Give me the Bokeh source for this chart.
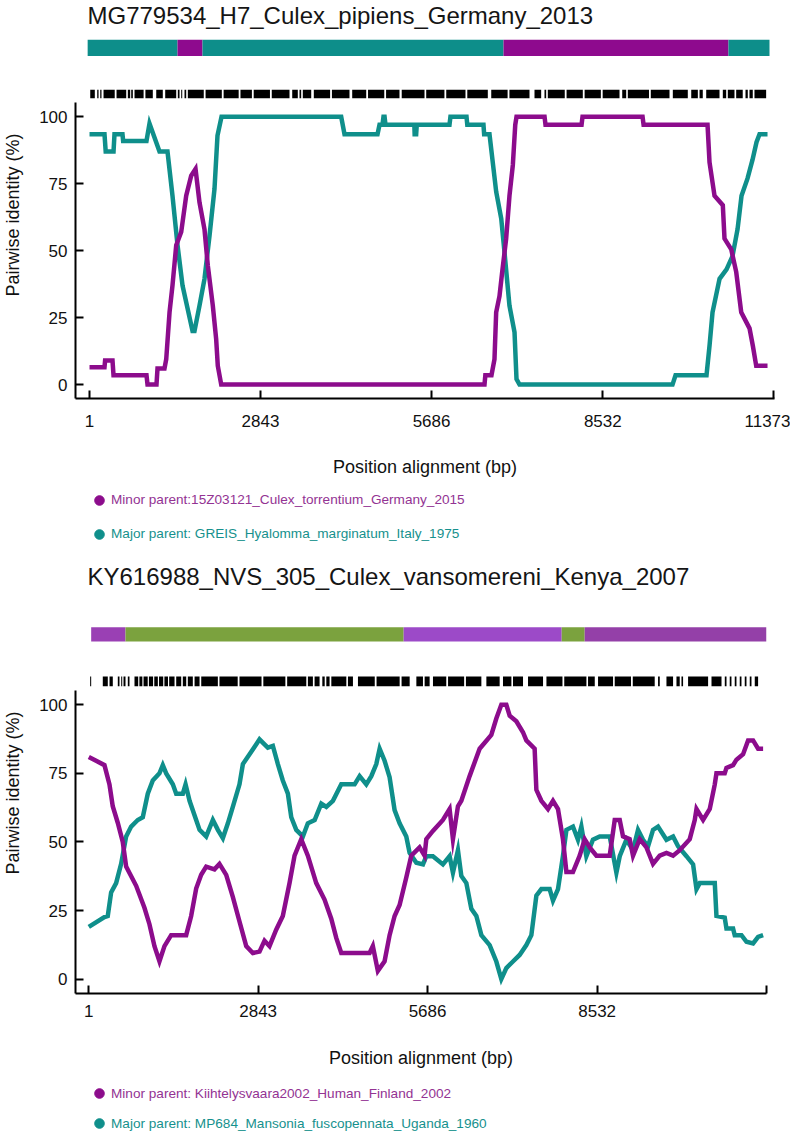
from bokeh.plotting import figure
from bokeh.models import ColumnDataSource, FixedTicker, Legend, LegendItem, Range1d
from bokeh.layouts import column
from bokeh.embed import file_html
from bokeh.resources import INLINE

# ---------------- data ----------------
x_ticks = [1, 2843, 5686, 8532, 11373]
y_ticks = [0, 25, 50, 75, 100]

top_title = "MG779534_H7_Culex_pipiens_Germany_2013"
top_minor_label = "Minor parent:15Z03121_Culex_torrentium_Germany_2015"
top_major_label = "Major parent: GREIS_Hyalomma_marginatum_Italy_1975"

top_minor_x = [1, 250, 260, 383, 400, 948, 965, 1114, 1131, 1247, 1276, 1331, 1380, 1442, 1525, 1608, 1691,
               1763, 1829, 1912, 1967, 2050, 2106, 2133, 2190, 6566, 6580, 6682, 6732, 6760, 6815, 6860, 6926,
               6981, 7037, 7077, 7098, 7564, 7580, 8179, 8195, 9193, 9210, 10273, 10306, 10389, 10527, 10555,
               10667, 10750, 10833, 10971, 11026, 11082, 11270]
top_minor_y = [6.5, 6.5, 9, 9, 3.5, 3.5, 0, 0, 6, 6, 9.5, 27, 37, 52, 57, 70.5, 78,
               80.5, 68, 58, 44.5, 29.5, 17, 7, 0, 0, 3.5, 3.5, 9.5, 27, 33, 42, 54.5,
               70.5, 82, 97, 100, 100, 97, 97, 100, 100, 97, 97, 83, 70.5, 67, 54.5,
               50.5, 42, 27, 21, 14.5, 7, 7]

top_major_x = [1, 250, 270, 400, 416, 549, 560, 948, 998, 1164, 1297, 1380, 1464, 1547, 1630, 1713, 1746,
               1829, 1912, 1995, 2078, 2128, 2195, 4184, 4239, 4788, 4821, 4870, 4887, 4905, 4920, 5400,
               5405, 5430, 5440, 5984, 6000, 6267, 6280, 6549, 6560, 6649, 6760, 6844, 6898, 6981, 7065,
               7098, 7148, 9691, 9741, 10256, 10306, 10356, 10473, 10589, 10688, 10772, 10838, 10938, 11021,
               11087, 11137, 11270]
top_major_y = [93.5, 93.5, 87, 87, 93.5, 93.5, 91, 91, 97.5, 87, 87, 70.5, 52, 37, 28.5, 20, 20,
               29.5, 39.5, 55.5, 73, 93, 100, 100, 93.5, 93.5, 97, 97, 100, 100, 97, 97,
               93.5, 93.5, 97, 97, 100, 100, 97, 97, 93.5, 93.5, 72, 62, 49.5, 29.5, 19.5,
               2, 0, 0, 3.5, 3.5, 14.5, 27, 39.5, 43, 48, 58, 70.5, 77, 84,
               90.5, 93.5, 93.5]

top_bar_start = [-30, 1464, 1879, 6882, 10621]
top_bar_end = [1464, 1879, 6882, 10621, 11303]
top_bar_parent = ["major", "minor", "major", "minor", "major"]

top_site_start = [13, 129, 179, 234, 450, 638, 694, 749, 930, 1110, 1259, 1469, 1525, 1580, 1635, 1930, 2230,
                  2510, 2730, 3030, 3370, 3491, 3546, 3729, 4030, 4367, 4630, 4930, 5190, 5597, 5930, 6280,
                  6678, 6980, 7397, 7563, 7618, 7930, 8230, 8530, 8855, 8948, 9330, 9696, 10002, 10140, 10251,
                  10527, 10610, 10749, 10904, 10970, 11053]
top_site_end = [89, 151, 200, 420, 611, 677, 721, 900, 1053, 1219, 1442, 1497, 1542, 1608, 1900, 2200, 2480,
                2700, 3000, 3325, 3463, 3519, 3686, 4000, 4322, 4600, 4900, 5153, 5569, 5900, 6250, 6621,
                6950, 7314, 7508, 7591, 7900, 8200, 8500, 8810, 8921, 9300, 9641, 9945, 10112, 10194, 10472,
                10583, 10721, 10858, 10942, 11025, 11247]

bot_title = "KY616988_NVS_305_Culex_vansomereni_Kenya_2007"
bot_minor_label = "Minor parent: Kiihtelysvaara2002_Human_Finland_2002"
bot_major_label = "Major parent: MP684_Mansonia_fuscopennata_Uganda_1960"

bot_minor_x = [1, 264, 348, 403, 487, 571, 628, 796, 935, 1019, 1103, 1187, 1271, 1383, 1635, 1719, 1803,
               1887, 1971, 2110, 2194, 2307, 2418, 2530, 2643, 2754, 2866, 2950, 3034, 3146, 3257, 3370,
               3454, 3566, 3677, 3818, 3957, 4070, 4154, 4238, 4713, 4768, 4852, 4965, 5049, 5133, 5217,
               5329, 5413, 5552, 5636, 5665, 5776, 5944, 6056, 6112, 6196, 6253, 6392, 6560, 6756, 6840,
               6924, 7008, 7064, 7176, 7287, 7344, 7483, 7512, 7596, 7707, 7791, 7875, 7958, 8016, 8126,
               8239, 8323, 8407, 8520, 8743, 8827, 8911, 8966, 9078, 9134, 9246, 9359, 9470, 9582, 9695,
               9806, 9918, 10086, 10170, 10199, 10310, 10422, 10506, 10534, 10673, 10702, 10813, 10870,
               10981, 11065, 11149, 11233, 11317]
bot_minor_y = [81, 78, 71, 63, 57, 50, 41, 34, 26, 20, 12, 6.5, 12, 16, 16, 23, 33,
               38, 41, 40, 42, 38, 30, 21, 12, 9.5, 10, 14, 12, 18, 23, 35,
               45, 51, 45, 35, 29, 22, 15, 9.5, 9.5, 12, 3, 6.5, 16, 23, 27,
               37, 45, 48, 45, 51, 54, 58, 62, 51, 63, 65, 74, 84, 89, 95,
               100, 100, 96, 94, 90, 87, 84, 69, 65, 62, 65, 62, 51, 39, 39,
               45, 51, 48, 45, 45, 58, 58, 52, 51, 45, 51, 48, 42, 45, 46,
               45, 47, 51, 58, 62, 58, 62, 71, 75, 75, 77, 78, 80,
               82, 87, 87, 84, 84]

bot_major_x = [1, 264, 319, 376, 460, 544, 628, 712, 823, 907, 991, 1075, 1187, 1243, 1300, 1411, 1468,
               1579, 1625, 1692, 1803, 1860, 1971, 2083, 2167, 2251, 2335, 2418, 2530, 2587, 2699, 2812,
               2866, 2950, 3006, 3090, 3174, 3257, 3342, 3399, 3483, 3594, 3677, 3791, 3903, 3987, 4098,
               4238, 4462, 4546, 4658, 4742, 4826, 4882, 4965, 5049, 5133, 5217, 5329, 5385, 5498, 5609,
               5665, 5776, 5944, 6056, 6112, 6196, 6253, 6337, 6421, 6505, 6589, 6728, 6840, 6924, 7008,
               7119, 7231, 7344, 7428, 7512, 7596, 7735, 7791, 7875, 7958, 8016, 8126, 8210, 8267, 8351,
               8462, 8575, 8743, 8855, 8911, 9023, 9134, 9218, 9302, 9386, 9470, 9554, 9695, 9806, 9890,
               10031, 10142, 10199, 10254, 10506, 10534, 10673, 10702, 10813, 10841, 10954, 11038, 11149,
               11233, 11317]
bot_major_y = [19, 22.6, 23, 31.6, 35, 42, 52, 55.6, 58, 59, 67.6, 72.4, 75, 78, 75, 71, 67.6,
               67.6, 71, 65, 58, 54.4, 52, 58, 54.4, 51.4, 56.8, 62.8, 71, 78.4, 82, 85.6,
               87.4, 85.6, 84.4, 85, 78.4, 72.4, 67.6, 59, 54.4, 52, 56.8, 58, 64, 62.8, 65,
               71, 71, 74, 71, 74, 78.4, 84, 79.6, 73.6, 61.6, 56.8, 52, 46, 42.4, 41.8,
               44.8, 44.8, 41.8, 44.8, 38.8, 47, 37.6, 35, 25.6, 23, 16, 12.4, 6.4, 0, 4,
               6.4, 8.8, 12.4, 16, 30.4, 32.8, 32.8, 28.6, 32.8, 44.8, 54.4, 55.6, 50.8, 55.6, 44.8,
               50.8, 52, 52, 38.8, 44.8, 50.8, 47, 54.4, 50.8, 48.4, 54.4, 55.6, 50.8, 52, 48.4,
               44.8, 41.8, 32.8, 35, 35, 23, 22.4, 18.4, 18.4, 16, 16, 13.6, 13,
               15.4, 16]

bot_bar_start = [41, 617, 5285, 7937, 8323]
bot_bar_end = [617, 5285, 7937, 8323, 11374]
bot_bar_parent = ["minor_a", "major", "minor_b", "major", "minor_c"]

bot_site_start = [24, 236, 349, 488, 545, 584, 656, 768, 850, 920, 1010, 1100, 1180, 1270, 1350, 1468, 1579,
                  1663, 1776, 1888, 2194, 2530, 2930, 3330, 3678, 3790, 3920, 3987, 4071, 4350, 4518, 4830,
                  5250, 5498, 5637, 5777, 6030, 6330, 6673, 6952, 7120, 7372, 7681, 7980, 8379, 8547, 8827,
                  9130, 9554, 9695, 9863, 9947, 10058, 10451, 10674, 10757, 10841, 10925, 11009, 11093, 11177]
bot_site_end = [41, 320, 404, 516, 562, 617, 684, 830, 900, 990, 1080, 1160, 1250, 1330, 1440, 1552, 1636,
                1747, 1860, 2167, 2500, 2900, 3300, 3651, 3762, 3874, 3960, 4042, 4323, 4434, 4800, 5218,
                5386, 5609, 5721, 6000, 6300, 6589, 6896, 7093, 7288, 7624, 7950, 8352, 8492, 8799, 9100,
                9498, 9583, 9806, 9918, 9974, 10394, 10619, 10703, 10786, 10870, 10954, 11038, 11122, 11233]

# ---------------- styles ----------------
MAGENTA = "#8c0c8c"
TEAL = "#0f8f8b"
MAGENTA_TXT = "#933393"
TEAL_TXT = "#16918d"
TOP_BAR_COLORS = {"major": "#0d8e8a", "minor": "#8e0a8e"}
BOT_BAR_COLORS = {"minor_a": "#9a40b4", "major": "#7ba23e", "minor_b": "#9c4ac8", "minor_c": "#9440a8"}
FONT = "Liberation Sans"
CANVAS_W = 783


def make_chart(title, minor_xy, major_xy, bar, bar_colors, sites, last_label,
               fw, fh, xr, yr, ybound, bar_y, site_y, mbr, tick_standoff, xlabel_standoff):
    p = figure(frame_width=fw, frame_height=fh, x_range=Range1d(*xr), y_range=Range1d(*yr),
               output_backend="svg", toolbar_location=None, title=title,
               min_border_left=0, min_border_right=mbr, min_border_top=0, min_border_bottom=0)
    p.title.text_font = FONT
    p.title.text_font_size = "24px"
    p.title.text_font_style = "normal"
    p.title.text_color = "#151515"
    p.title.align = "left"
    p.title.offset = 12
    p.title.vertical_align = "top"
    p.title.standoff = 2
    p.outline_line_color = None
    p.xgrid.visible = False
    p.ygrid.visible = False

    bs, be, bp = bar
    bar_src = ColumnDataSource(dict(left=bs, right=be, color=[bar_colors[k] for k in bp]))
    p.quad(left="left", right="right", bottom=bar_y[0], top=bar_y[1], fill_color="color",
           line_color=None, source=bar_src)
    ss, se = sites
    site_src = ColumnDataSource(dict(left=ss, right=se))
    p.quad(left="left", right="right", bottom=site_y[0], top=site_y[1], fill_color="black",
           line_color=None, source=site_src)

    minor_src = ColumnDataSource(dict(x=minor_xy[0], y=minor_xy[1]))
    major_src = ColumnDataSource(dict(x=major_xy[0], y=major_xy[1]))
    p.line("x", "y", source=major_src, line_width=4.5, line_color=TEAL, line_join="miter")
    p.line("x", "y", source=minor_src, line_width=4.5, line_color=MAGENTA, line_join="miter")

    ya = p.yaxis[0]
    ya.ticker = FixedTicker(ticks=y_ticks)
    ya.bounds = (yr[0], ybound)
    ya.major_tick_in = 8
    ya.major_tick_out = 0
    ya.minor_tick_in = 0
    ya.minor_tick_out = 0
    ya.axis_line_width = 2
    ya.major_tick_line_width = 2
    ya.major_label_standoff = 8
    ya.major_label_text_font = FONT
    ya.major_label_text_font_size = "17px"
    ya.major_label_text_color = "#111111"
    ya.axis_label = "Pairwise identity (%)"
    ya.axis_label_text_font = FONT
    ya.axis_label_text_font_size = "18px"
    ya.axis_label_text_font_style = "normal"
    ya.axis_label_text_color = "#111111"
    ya.axis_label_standoff = 13

    xa = p.xaxis[0]
    xa.ticker = FixedTicker(ticks=x_ticks)
    xa.major_label_overrides = {x_ticks[-1]: last_label}
    xa.major_tick_in = 8
    xa.major_tick_out = 0
    xa.minor_tick_in = 0
    xa.minor_tick_out = 0
    xa.axis_line_width = 2
    xa.major_tick_line_width = 2
    xa.major_label_standoff = tick_standoff
    xa.major_label_text_font = FONT
    xa.major_label_text_font_size = "17px"
    xa.major_label_text_color = "#111111"
    xa.axis_label = "Position alignment (bp)"
    xa.axis_label_text_font = FONT
    xa.axis_label_text_font_size = "18px"
    xa.axis_label_text_font_style = "normal"
    xa.axis_label_text_color = "#111111"
    xa.axis_label_standoff = xlabel_standoff
    return p, minor_src, major_src


def make_legend(height, entries):
    f = figure(width=CANVAS_W, height=height, x_range=Range1d(0, 1), y_range=Range1d(0, 1),
               output_backend="svg", toolbar_location=None, min_border=0,
               x_axis_location=None, y_axis_location=None)
    f.outline_line_color = None
    f.grid.visible = False
    for label, src, color, txt_color, vy in entries:
        r = f.scatter("x", "y", source=src, size=10, fill_color=color, line_color=color, visible=False)
        leg = Legend(items=[LegendItem(label=label, renderers=[r])], location=(12, vy),
                     margin=0, padding=0, spacing=0, glyph_width=24, glyph_height=24,
                     label_standoff=0, label_text_font=FONT, label_text_font_size="13.6px",
                     label_text_color=txt_color, border_line_color=None, background_fill_alpha=0)
        f.add_layout(leg)
    return f


p1, s1_minor, s1_major = make_chart(
    top_title, (top_minor_x, top_minor_y), (top_major_x, top_major_y),
    (top_bar_start, top_bar_end, top_bar_parent), TOP_BAR_COLORS,
    (top_site_start, top_site_end), str(x_ticks[-1]),
    fw=699, fh=367, xr=(-232, 11386), yr=(-5.2, 131.86), ybound=105.5,
    bar_y=(122.7, 128.8), site_y=(106.9, 110.1), mbr=16,
    tick_standoff=16, xlabel_standoff=27)

l1 = make_legend(82, [(top_minor_label, s1_minor, MAGENTA, MAGENTA_TXT, 49.5),
                      (top_major_label, s1_major, TEAL, TEAL_TXT, 15.5)])

p2, s2_minor, s2_major = make_chart(
    bot_title, (bot_minor_x, bot_minor_y), (bot_major_x, bot_major_y),
    (bot_bar_start, bot_bar_end, bot_bar_parent), BOT_BAR_COLORS,
    (bot_site_start, bot_site_end), "",
    fw=691, fh=401, xr=(-222, 11374), yr=(-5.26, 140.94), ybound=105.2,
    bar_y=(123.12, 128.27), site_y=(106.77, 110.27), mbr=24,
    tick_standoff=11, xlabel_standoff=28)

l2 = make_legend(62, [(bot_minor_label, s2_minor, MAGENTA, MAGENTA_TXT, 27),
                      (bot_major_label, s2_major, TEAL, TEAL_TXT, -3)])

layout = column(p1, l1, p2, l2, spacing=0)
open("out.html", "w").write(file_html(layout, INLINE))
